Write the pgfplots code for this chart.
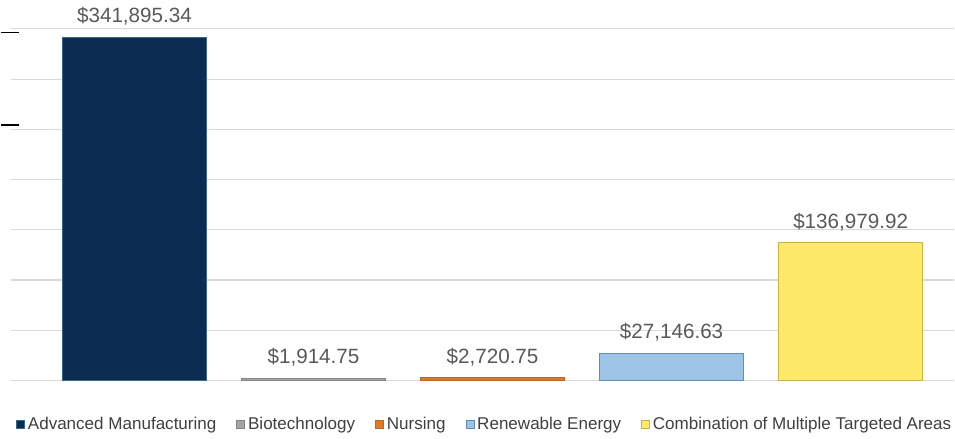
\documentclass[border=0pt]{standalone}
\usepackage{pgfplots}
\pgfplotsset{compat=1.18}
\usepackage{fontspec}
\setmainfont{Liberation Sans}

\definecolor{navy}{HTML}{0B2D51}
\definecolor{navyedge}{HTML}{3A6690}
\definecolor{biogray}{HTML}{A5A5A5}
\definecolor{nurse}{HTML}{E0782A}
\definecolor{lblue}{HTML}{9DC3E6}
\definecolor{lblueedge}{HTML}{5E8DBA}
\definecolor{yel}{HTML}{FFE96B}
\definecolor{yeledge}{HTML}{C9B443}
\definecolor{labgray}{HTML}{595959}
\definecolor{leggray}{HTML}{404040}

\begin{document}
\begin{tikzpicture}
\begin{axis}[
    scale only axis,
    width=708.75pt, height=264pt,
    xmin=-0.69, xmax=4.58,
    ymin=0, ymax=350000,
    ytick={0,50000,...,350000},
    scaled y ticks=false,
    yticklabels={}, xtick=\empty,
    ymajorgrids,
    grid style={color=black!15, line width=0.8pt},
    axis line style={draw=none},
    tick style={draw=none},
    clip=false,
    ybar,
    every axis plot/.append style={bar width=0.808, bar shift=0pt, line width=0.8pt},
    point meta=explicit symbolic,
    nodes near coords,
    every node near coord/.append style={font=\fontsize{15.5}{17}\selectfont, text=labgray,
        anchor=south, inner sep=0pt, yshift=8.5pt},
    legend columns=-1,
    legend style={at={(0.5025,-0.125)}, anchor=center, draw=none, inner sep=0pt,
        font=\fontsize{12.8}{14}\selectfont, text=leggray,
        /tikz/every even column/.append style={column sep=13pt}},
    legend image code/.code={\filldraw[#1] (0pt,-3pt) rectangle (6pt,3pt);},
]
\addplot[fill=navy, draw=navyedge] coordinates {(0,341895.34) [\$341,895.34]};
\addplot[fill=biogray, draw=biogray!80!black] coordinates {(1,1914.75) [\$1,914.75]};
\addplot[fill=nurse, draw=nurse!85!black] coordinates {(2,2720.75) [\$2,720.75]};
\addplot[fill=lblue, draw=lblueedge] coordinates {(3,27146.63) [\$27,146.63]};
\addplot[fill=yel, draw=yeledge] coordinates {(4,136979.92) [\$136,979.92]};
\legend{Advanced Manufacturing, Biotechnology, Nursing, Renewable Energy, Combination of Multiple Targeted Areas}
\draw[black, line width=1.4pt] (rel axis cs:-0.0106,0.99) -- (rel axis cs:0.0085,0.99);
\draw[black, line width=1.4pt] (rel axis cs:-0.0106,0.727) -- (rel axis cs:0.0085,0.727);
\path (rel axis cs:-0.0106,-0.1648) rectangle (rel axis cs:1,1.0824);
\end{axis}
\end{tikzpicture}
\end{document}
